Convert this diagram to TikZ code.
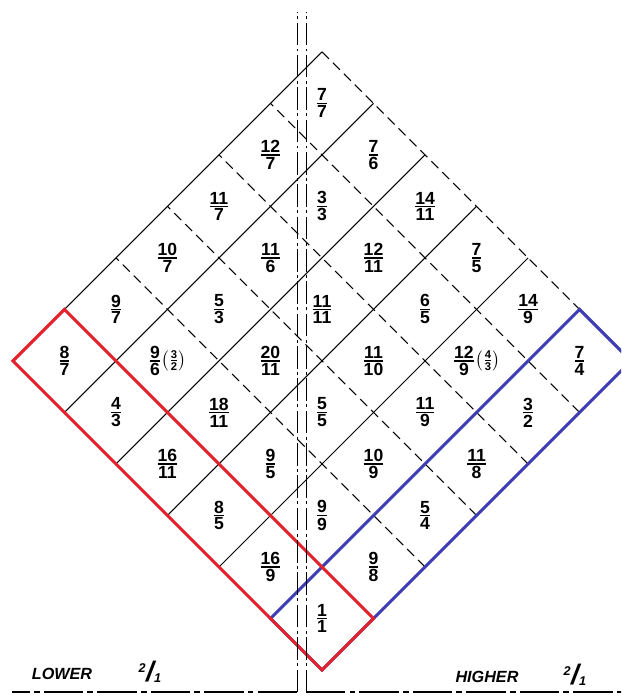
\documentclass[tikz,border=0pt]{standalone}
\usepackage{amsmath}
\usepackage{fontspec}
\setmainfont{Liberation Sans}
\definecolor{lowred}{RGB}{226,34,44}
\definecolor{highblue}{RGB}{62,62,178}
\newcommand{\rat}[2]{$\genfrac{}{}{1.1pt}{1}{\mbox{#1}}{\mbox{#2}}$}
\newcommand{\subrat}[2]{$\left(\genfrac{}{}{0.6pt}{1}{\mbox{\fontsize{8}{9}\selectfont #1}}{\mbox{\fontsize{8}{9}\selectfont #2}}\right)$}
\newcommand{\slashrat}[2]{\raisebox{0.55em}{\small #1}\kern0.02em{\fontsize{20}{20}\selectfont /}\kern0.02em\raisebox{-0.1em}{\small #2}}
\begin{document}
\begin{tikzpicture}[
		x=0.025cm, y=0.025cm,
		every node/.style={inner sep=0pt, align=center},
		cell/.style={font=\fontsize{12.5}{14}\selectfont\bfseries},
		tag/.style={font=\fontsize{11.5}{13}\selectfont\bfseries\itshape},
		solidline/.style={draw, line width=0.7pt},
		dashline/.style={draw, line width=0.7pt, dash pattern=on 7pt off 4pt},
		centreline/.style={draw, line width=0.7pt, dash pattern=on 16pt off 2.5pt on 2pt off 2.5pt},
		groundline/.style={draw, line width=0.9pt, dash pattern=on 28pt off 3pt on 4pt off 3pt},
		lowerbox/.style={draw=lowred, line width=2.2pt, line join=miter},
		higherbox/.style={draw=highblue, line width=2.2pt, line join=miter}
		]
		
		\useasboundingbox (0,0) rectangle (621,697);
		\clip (0,0) rectangle (621,697);
		
		\coordinate (foot-l) at (297,5);
		\coordinate (head-l) at (297,685);
		\coordinate (foot-r) at (306,5);
		\coordinate (head-r) at (306,685);
		\coordinate (end-l) at (12,5);
		\coordinate (end-r) at (630,5);
		
		\begin{scope}[shift={(322,27)}, x={(1.2875cm,1.2875cm)}, y={(-1.2875cm,1.2875cm)}]
			\draw[solidline] (0,1) -- (6,1);
			\draw[solidline] (0,2) -- (6,2);
			\draw[solidline] (0,3) -- (6,3);
			\draw[solidline] (0,4) -- (6,4);
			\draw[solidline] (0,5) -- (6,5);
			\draw[solidline] (0,6) -- (6,6);
			\draw[dashline] (2,0) -- (2,6);
			\draw[dashline] (3,0) -- (3,6);
			\draw[dashline] (4,0) -- (4,6);
			\draw[dashline] (5,0) -- (5,6);
			\draw[dashline] (6,6) -- (6,0);
			
			\draw[higherbox] (0,0) -- (6,0) -- (6,1) -- (0,1) -- cycle;
			\draw[lowerbox] (0,0) -- (1,0) -- (1,6) -- (0,6) -- cycle;
			
			\node[cell] (c-0-0) at (0.5,0.5) {\rat{1}{1}};
			\node[cell] (c-0-1) at (0.5,1.5) {\rat{16}{9}};
			\node[cell] (c-0-2) at (0.5,2.5) {\rat{8}{5}};
			\node[cell] (c-0-3) at (0.5,3.5) {\rat{16}{11}};
			\node[cell] (c-0-4) at (0.5,4.5) {\rat{4}{3}};
			\node[cell] (c-0-5) at (0.5,5.5) {\rat{8}{7}};
			
			\node[cell] (c-1-0) at (1.5,0.5) {\rat{9}{8}};
			\node[cell] (c-1-1) at (1.5,1.5) {\rat{9}{9}};
			\node[cell] (c-1-2) at (1.5,2.5) {\rat{9}{5}};
			\node[cell] (c-1-3) at (1.5,3.5) {\rat{18}{11}};
			\node[cell] (c-1-4) at (1.5,4.5) {\rat{9}{6}\subrat{3}{2}};
			\node[cell] (c-1-5) at (1.5,5.5) {\rat{9}{7}};
			
			\node[cell] (c-2-0) at (2.5,0.5) {\rat{5}{4}};
			\node[cell] (c-2-1) at (2.5,1.5) {\rat{10}{9}};
			\node[cell] (c-2-2) at (2.5,2.5) {\rat{5}{5}};
			\node[cell] (c-2-3) at (2.5,3.5) {\rat{20}{11}};
			\node[cell] (c-2-4) at (2.5,4.5) {\rat{5}{3}};
			\node[cell] (c-2-5) at (2.5,5.5) {\rat{10}{7}};
			
			\node[cell] (c-3-0) at (3.5,0.5) {\rat{11}{8}};
			\node[cell] (c-3-1) at (3.5,1.5) {\rat{11}{9}};
			\node[cell] (c-3-2) at (3.5,2.5) {\rat{11}{10}};
			\node[cell] (c-3-3) at (3.5,3.5) {\rat{11}{11}};
			\node[cell] (c-3-4) at (3.5,4.5) {\rat{11}{6}};
			\node[cell] (c-3-5) at (3.5,5.5) {\rat{11}{7}};
			
			\node[cell] (c-4-0) at (4.5,0.5) {\rat{3}{2}};
			\node[cell] (c-4-1) at (4.5,1.5) {\rat{12}{9}\subrat{4}{3}};
			\node[cell] (c-4-2) at (4.5,2.5) {\rat{6}{5}};
			\node[cell] (c-4-3) at (4.5,3.5) {\rat{12}{11}};
			\node[cell] (c-4-4) at (4.5,4.5) {\rat{3}{3}};
			\node[cell] (c-4-5) at (4.5,5.5) {\rat{12}{7}};
			
			\node[cell] (c-5-0) at (5.5,0.5) {\rat{7}{4}};
			\node[cell] (c-5-1) at (5.5,1.5) {\rat{14}{9}};
			\node[cell] (c-5-2) at (5.5,2.5) {\rat{7}{5}};
			\node[cell] (c-5-3) at (5.5,3.5) {\rat{14}{11}};
			\node[cell] (c-5-4) at (5.5,4.5) {\rat{7}{6}};
			\node[cell] (c-5-5) at (5.5,5.5) {\rat{7}{7}};
		\end{scope}
		
		\draw[centreline] (foot-l) -- (head-l);
		\draw[centreline] (foot-r) -- (head-r);
		\draw[groundline] (foot-l) -- (end-l);
		\draw[groundline] (foot-r) -- (end-r);
		
		\node[tag] (lower) at (62,23) {LOWER};
		\node[tag] (lower-ratio) at (150,25) {\slashrat{2}{1}};
		\node[tag] (higher) at (487,20) {HIGHER};
		\node[tag] (higher-ratio) at (575,22) {\slashrat{2}{1}};
	\end{tikzpicture}
\end{document}
